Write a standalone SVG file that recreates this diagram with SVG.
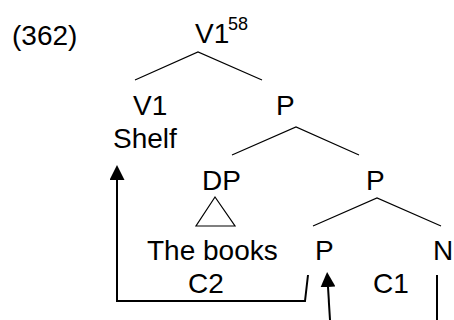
<svg xmlns="http://www.w3.org/2000/svg" width="454" height="320" viewBox="0 0 454 320">
<defs>
<style>
text{font-family:"Liberation Sans",Arial,sans-serif;font-size:28px;fill:#000}
.sup{font-size:18px}
.edge{stroke:#000;stroke-width:1.2;fill:none}
.mv{stroke:#000;stroke-width:2;fill:none}
</style>
<marker id="ah" viewBox="0 0 15 15" refX="0" refY="7.5" markerWidth="15" markerHeight="15" markerUnits="userSpaceOnUse" orient="auto">
<path d="M0,0 L15,7.5 L0,15 z" fill="#000"/>
</marker>
</defs>
<rect width="454" height="320" fill="#fff"/>
<g id="label"><text x="12" y="45">(362)</text></g>
<g id="root"><text x="195" y="43">V1</text><text class="sup" x="228" y="30">58</text></g>
<g id="v1"><text x="133" y="115">V1</text><text x="113" y="148">Shelf</text></g>
<g id="p1"><text x="276" y="115">P</text></g>
<g id="dp"><text x="202" y="190">DP</text><polygon class="edge" points="215,197 196,226 235,226"/><text x="147" y="260">The books</text></g>
<g id="p2"><text x="366" y="190">P</text></g>
<g id="p3"><text x="315" y="260">P</text></g>
<g id="n"><text x="433" y="260">N</text></g>
<g id="c2"><text x="188" y="293">C2</text></g>
<g id="c1"><text x="373" y="293">C1</text></g>
<g id="connectors">
<path class="edge" d="M135,80 L198,52 L262,80"/>
<path class="edge" d="M232,155 L296,127 L359,155"/>
<path class="edge" d="M313,226 L377,198 L441,226"/>
<path class="mv" d="M308,275 L305,301 L117,301 L117,180" marker-end="url(#ah)"/>
<path class="mv" d="M330,320 L328,287" marker-end="url(#ah)"/>
<path class="mv" d="M437,275 L437,320"/>
</g>
</svg>
